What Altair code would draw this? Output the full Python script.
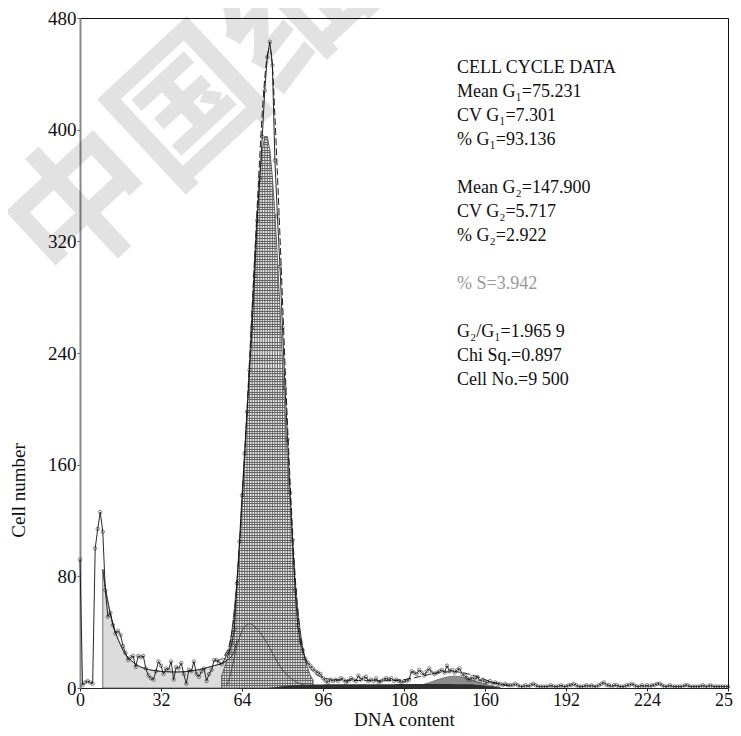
import altair as alt
import pandas as pd

# ---------------- data ----------------
counts = [
    92, 2, 4, 5, 4, 3, 100, 114, 126, 112,
    70, 51, 54, 45, 39, 41, 38, 30, 25, 20,
    22, 23, 15, 23, 22, 23, 14, 9, 7, 6,
    12, 19, 16, 10, 14, 13, 19, 6, 15, 14,
    18, 10, 3, 13, 12, 19, 10, 8, 12, 14,
    5, 10, 13, 20, 20, 18, 17, 20, 24, 26,
    32, 42, 75, 105, 138, 168, 198, 228, 258, 295,
    335, 365, 395, 428, 452, 463, 446, 378, 338, 302,
    258, 215, 178, 140, 106, 70, 45, 33, 27, 21,
    18, 16, 14, 12, 11, 10, 7, 5, 4, 6,
    5, 6, 5, 7, 6, 4, 5, 7, 6, 5,
    9, 6, 7, 8, 5, 6, 5, 7, 4, 5,
    6, 7, 6, 7, 5, 6, 5, 4, 5, 5,
    6, 12, 11, 10, 13, 11, 9, 12, 14, 11,
    10, 11, 12, 13, 11, 16, 12, 13, 11, 13,
    14, 10, 9, 7, 6, 8, 6, 8, 5, 6,
    4, 4, 5, 3, 4, 3, 3, 2, 3, 2,
    2, 2, 3, 2, 1, 1, 2, 1, 2, 3,
    2, 1, 1, 1, 1, 1, 2, 1, 1, 1,
    2, 1, 1, 2, 2, 3, 2, 1, 1, 1,
    2, 1, 2, 1, 1, 2, 3, 4, 2, 2,
    1, 2, 2, 1, 1, 1, 2, 2, 3, 2,
    1, 1, 2, 1, 2, 1, 2, 2, 3, 3,
    2, 1, 1, 2, 1, 1, 1, 1, 1, 2,
    2, 1, 1, 1, 1, 1, 2, 1, 1, 2,
    1, 1, 1, 1, 1, 1, 1,
]
channels = list(range(len(counts)))

debris_ch = list(range(9, 63))
debris_fit = [
    85, 72, 62, 53, 46, 40, 35, 31, 27, 24,
    22, 20, 18.5, 17, 16, 15, 14.4, 13.8, 13.3, 12.9,
    12.6, 12.3, 12.1, 11.9, 11.8, 11.7, 11.6, 11.5, 11.5, 11.5,
    11.5, 11.6, 11.7, 11.8, 12, 12.2, 12.5, 12.8, 13.2, 13.6,
    14, 14.5, 15, 15.5, 16, 16.5, 17, 17.6, 18.4, 19.5,
    21, 23, 27, 34,
]

g1_ch = list(range(56, 93))
g1_fit = [
    9, 14, 20, 29, 41, 57, 77, 101, 129, 162,
    197, 234, 272, 308, 340, 366, 385, 395, 395, 385,
    366, 340, 308, 272, 234, 197, 162, 129, 101, 77,
    57, 41, 29, 20, 14, 9, 6,
]

s_hump_ch = list(range(58, 90))
s_hump = [
    2, 7, 14, 22, 30, 36, 41, 44, 45.5, 46,
    45.5, 44, 42, 40, 37.5, 35, 32, 28.5, 25, 22,
    18.5, 15.5, 13, 11, 9, 7.3, 6, 4.8, 3.8, 3,
    2.4, 2,
]

s_band_ch = list(range(74, 167, 2))
s_band = [
    0, 0.4, 0.8, 1.2, 1.6, 1.9, 2.1, 2.3, 2.4, 2.5,
    2.5, 2.5, 2.6, 2.6, 2.6, 2.6, 2.6, 2.6, 2.7, 2.7,
    2.7, 2.7, 2.7, 2.7, 2.7, 2.7, 2.8, 2.8, 2.8, 2.8,
    2.8, 2.8, 2.8, 2.8, 2.8, 2.8, 2.8, 2.7, 2.7, 2.7,
    2.6, 2.4, 2.1, 1.7, 1.2, 0.7, 0.2,
]

g2_ch = list(range(130, 167, 2))
g2_fit = [
    0.7, 1.2, 1.8, 2.8, 3.9, 5.2, 6.4, 7.5, 8.2, 8.5,
    8.2, 7.5, 6.4, 5.2, 3.9, 2.8, 1.8, 1.2, 0.7,
]

model_ch = list(range(54, 101)) + list(range(102, 171, 2))
model_fit = [
    19, 20, 21, 23, 26, 31, 40, 54, 75, 102,
    133, 166, 200, 236, 272, 308, 345, 380, 412, 437,
    453, 458, 446, 410, 368, 324, 278, 231, 188, 148,
    111, 80, 56, 39, 28, 21, 17, 14, 12, 10,
    9, 8, 7.4, 6.9, 6.5, 6.2, 6,
    5.8, 5.6, 5.5, 5.4, 5.3, 5.3, 5.2, 5.2, 5.2, 5.2,
    5.3, 5.4, 5.6, 6, 6.6, 7.3, 8.1, 8.9, 9.7, 10.4,
    11, 11.4, 11.6, 11.6, 11.3, 10.7, 9.8, 8.7, 7.4, 6,
    4.7, 3.6, 2.7, 2, 1.5,
]

x_ticks = [0, 32, 64, 96, 128, 160, 192, 224, 256]
x_tick_labels = ["0", "32", "64", "96", "108", "160", "192", "224", "256"]
y_ticks = [0, 80, 160, 240, 320, 400, 480]

stats_lines = [
    "CELL CYCLE DATA",
    "Mean G\u2081=75.231",
    "CV G\u2081=7.301",
    "% G\u2081=93.136",
    "",
    "Mean G\u2082=147.900",
    "CV G\u2082=5.717",
    "% G\u2082=2.922",
    "",
    "% S=3.942",
    "",
    "G\u2082/G\u2081=1.965 9",
    "Chi Sq.=0.897",
    "Cell No.=9 500",
]
watermark = "中国细胞"

# ---------------- chart ----------------
SERIF = "Liberation Serif"
W, H = 648, 670

xs = alt.Scale(domain=[0, 256], nice=False, zero=False)
ys = alt.Scale(domain=[0, 480], nice=False, zero=True)

label_expr = " : ".join(
    f"datum.value == {v} ? '{t}'" for v, t in zip(x_ticks, x_tick_labels)
) + " : datum.label"

x_axis = alt.Axis(values=x_ticks, labelExpr=label_expr, title="DNA content",
                  grid=False, tickSize=3, labelPadding=0, labelFontSize=18,
                  labelFont=SERIF, titleFont=SERIF, titleFontSize=19,
                  titleFontWeight="normal", titleY=31, titleBaseline="middle",
                  domainColor="#222", tickColor="#222", labelColor="#111",
                  titleColor="#111", labelFlush=False, labelOverlap=False)
y_axis = alt.Axis(values=y_ticks, title="Cell number", grid=False, tickSize=3,
                  labelPadding=1, labelFontSize=19, labelFont=SERIF,
                  titleFont=SERIF, titleFontSize=19, titleFontWeight="normal",
                  titleX=-62, titleY=472, titleAngle=270, titleAlign="center",
                  titleBaseline="middle", domainColor="#888", domainWidth=2,
                  tickColor="#555", labelColor="#111", titleColor="#111",
                  labelFlush=False, labelOverlap=False)

hist_df = pd.DataFrame({"ch": channels, "n": counts})
debris_df = pd.DataFrame({"ch": debris_ch, "v": debris_fit})
g1_df = pd.DataFrame({"ch": g1_ch, "v": g1_fit})
hump_df = pd.DataFrame({"ch": s_hump_ch, "v": s_hump})
band_df = pd.DataFrame({"ch": s_band_ch, "v": s_band})
g2_df = pd.DataFrame({"ch": g2_ch, "v": g2_fit})
model_df = pd.DataFrame({"ch": model_ch, "v": model_fit})


def X(field="ch"):
    return alt.X(f"{field}:Q", scale=xs, axis=x_axis)


def Y(field="v"):
    return alt.Y(f"{field}:Q", scale=ys, axis=y_axis)


# debris region (light stipple grey)
debris_area = alt.Chart(debris_df).mark_area(
    color="#dcdcdc", stroke="#555", strokeWidth=0.8, interpolate="monotone"
).encode(x=X(), y=Y())

# G1 cross-hatch: horizontal stripes via gradient + vertical rules
n_stripes = 212
stops = []
for i in range(n_stripes):
    a = i / n_stripes
    b = (i + 0.38) / n_stripes
    c = (i + 1) / n_stripes
    stops += [
        alt.GradientStop(color="#666666", offset=a),
        alt.GradientStop(color="#666666", offset=b),
        alt.GradientStop(color="#eeeeee", offset=b),
        alt.GradientStop(color="#eeeeee", offset=c),
    ]
hatch = alt.Gradient(gradient="linear", stops=stops, x1=0, x2=0, y1=0, y2=1)

g1_area = alt.Chart(g1_df).mark_area(
    color=hatch, stroke="#444", strokeWidth=0.8
).encode(x=X(), y=Y())
g1_rules = alt.Chart(g1_df).mark_rule(color="#666666", strokeWidth=1).encode(
    x=X(), y=Y(), y2=alt.datum(0)
)

g2_area = alt.Chart(g2_df).mark_area(
    color="#8c8c8c", stroke="#555", strokeWidth=0.6, interpolate="monotone"
).encode(x=X(), y=Y())

band_area = alt.Chart(band_df).mark_area(
    color="#2e2e2e", interpolate="monotone"
).encode(x=X(), y=Y())

hump_line = alt.Chart(hump_df).mark_line(
    color="#444", strokeWidth=0.9, interpolate="monotone"
).encode(x=X(), y=Y())

debris_line = alt.Chart(debris_df).mark_line(
    color="#333", strokeWidth=1, interpolate="monotone"
).encode(x=X(), y=Y())

model_line = alt.Chart(model_df).mark_line(
    color="#222", strokeWidth=1, strokeDash=[7, 3], interpolate="monotone"
).encode(x=X(), y=Y())

hist_line = alt.Chart(hist_df).mark_line(
    color="#111", strokeWidth=0.9
).encode(x=X(), y=Y("n"))
hist_pts = alt.Chart(hist_df).mark_point(
    shape="circle", size=12, filled=False, color="#111", strokeWidth=0.7
).encode(x=X(), y=Y("n"))

# statistics text block
text_layers = []
y0 = 68 - 18
for i, line in enumerate(stats_lines):
    if not line:
        continue
    col = "#9a9a9a" if line.startswith("% S") else "#111"
    text_layers.append(
        alt.Chart(pd.DataFrame({"t": [line]})).mark_text(
            align="left", baseline="middle", font=SERIF, fontSize=18, color=col
        ).encode(text="t:N", x=alt.value(377), y=alt.value(y0 + 24 * i))
    )

wm = alt.Chart(pd.DataFrame({"t": [watermark]})).mark_text(
    align="center", baseline="middle", font="Noto Sans CJK SC",
    fontWeight="bold", fontSize=145, angle=317, color="#000", opacity=0.11
).encode(text="t:N", x=alt.value(165), y=alt.value(44))

chart = alt.layer(
    debris_area, g1_area, g1_rules, g2_area, band_area, hump_line,
    debris_line, model_line, hist_line, hist_pts, *text_layers, wm
).properties(
    width=W, height=H,
    autosize=alt.AutoSizeParams(type="none"),
    padding={"left": 72, "top": 10, "right": 5, "bottom": 40},
).configure_view(stroke="#111", strokeWidth=1)

chart.save("out.html", embed_options={"renderer": "svg", "actions": False})
